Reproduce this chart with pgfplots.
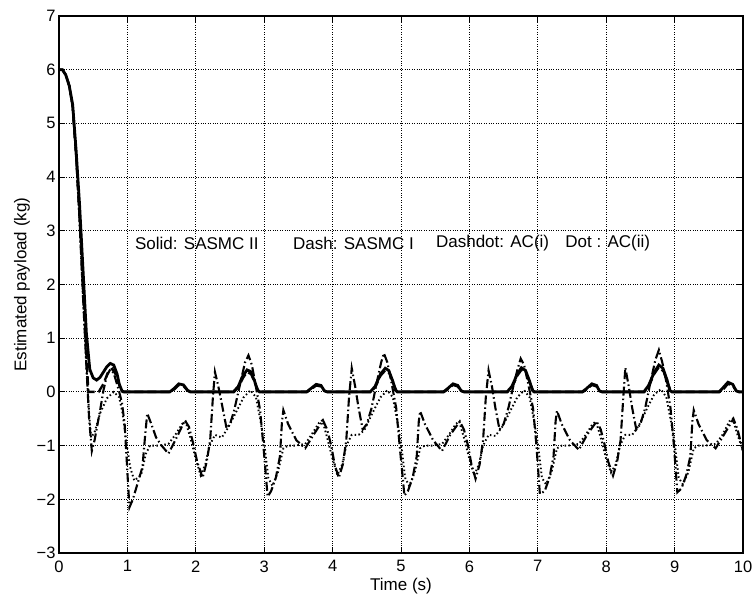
\documentclass[border=0pt]{standalone}
\usepackage{pgfplots}
\pgfplotsset{compat=1.18}
\usepackage{fontspec}
\setmainfont{Liberation Sans}
\begin{document}
\begin{tikzpicture}[font=\fontsize{16.5}{19}\selectfont]
\begin{axis}[
  name=ax,
  scale only axis, width=684pt, height=537pt,
  xmin=0, xmax=10, ymin=-3, ymax=7,
  xtick={0,1,...,10}, ytick={-3,-2,...,7},
  yticklabels={−3,−2,−1,0,1,2,3,4,5,6,7},
  tick align=inside, major tick length=6pt,
  xtick pos=both, ytick pos=both,
  grid=major,
  major grid style={dotted, black, line width=0.9pt},
  axis line style={black, line width=1.3pt},
  tick style={black, line width=1pt},
  /pgf/number format/assume math mode=true,
  xticklabel style={yshift=-4pt},
  xlabel={Time (s)}, ylabel={Estimated payload (kg)},
  label style={font=\fontsize{17}{20}\selectfont},
  xlabel style={yshift=1pt},
  ylabel style={yshift=0pt},
  clip=true,
]
% Solid: SASMC II
\addplot[black, line width=2.8pt] coordinates {
(0,6) (0.05,6) (0.1,5.9) (0.15,5.7) (0.2,5.35) (0.25,4.5) (0.3,3.5) (0.35,2.3) (0.4,1.1) (0.45,0.42) (0.5,0.26) (0.55,0.22) (0.6,0.27) (0.65,0.37) (0.7,0.47) (0.75,0.53) (0.8,0.5) (0.85,0.33) (0.88,0.15) (0.92,0.02) (0.95,0)
(1.62,0) (1.68,0.06) (1.75,0.15) (1.82,0.13) (1.88,0.03) (1.92,0)
(2.55,0) (2.62,0.1) (2.68,0.28) (2.75,0.41) (2.8,0.38) (2.86,0.2) (2.9,0.04) (2.93,0)
(3.62,0) (3.68,0.06) (3.76,0.14) (3.83,0.12) (3.88,0.02) (3.92,0)
(4.55,0) (4.62,0.1) (4.7,0.33) (4.77,0.44) (4.82,0.4) (4.88,0.2) (4.92,0.03) (4.95,0)
(5.62,0) (5.68,0.06) (5.76,0.15) (5.83,0.12) (5.88,0.02) (5.92,0)
(6.55,0) (6.62,0.1) (6.7,0.33) (6.76,0.45) (6.82,0.4) (6.88,0.2) (6.92,0.03) (6.95,0)
(7.65,0) (7.71,0.06) (7.79,0.15) (7.86,0.12) (7.9,0.02) (7.94,0)
(8.55,0) (8.62,0.12) (8.7,0.36) (8.77,0.5) (8.83,0.44) (8.89,0.22) (8.93,0.03) (8.96,0)
(9.65,0) (9.71,0.08) (9.78,0.18) (9.85,0.14) (9.9,0.02) (9.94,0) (10,0)
};
% Dash: SASMC I
\addplot[black, line width=2.3pt, dash pattern=on 9pt off 4pt] coordinates {
(0,6) (0.05,6) (0.1,5.9) (0.15,5.7) (0.2,5.3) (0.25,4.4) (0.3,3.3) (0.35,2.0) (0.4,0.7) (0.43,0) (0.58,0) (0.65,0.15) (0.72,0.38) (0.78,0.43) (0.84,0.3) (0.9,0.05) (0.93,0)
(1.63,0) (1.69,0.05) (1.75,0.13) (1.82,0.11) (1.88,0.02) (1.92,0)
(2.56,0) (2.63,0.1) (2.69,0.26) (2.75,0.37) (2.81,0.33) (2.87,0.15) (2.92,0)
(3.63,0) (3.69,0.05) (3.76,0.12) (3.83,0.1) (3.88,0.02) (3.92,0)
(4.56,0) (4.63,0.1) (4.7,0.3) (4.77,0.4) (4.83,0.35) (4.89,0.15) (4.94,0)
(5.63,0) (5.69,0.05) (5.76,0.13) (5.83,0.1) (5.88,0.02) (5.92,0)
(6.56,0) (6.63,0.1) (6.7,0.3) (6.76,0.41) (6.83,0.35) (6.89,0.15) (6.94,0)
(7.66,0) (7.72,0.05) (7.79,0.13) (7.86,0.1) (7.9,0.02) (7.94,0)
(8.56,0) (8.63,0.12) (8.7,0.33) (8.77,0.46) (8.84,0.38) (8.9,0.15) (8.95,0)
(9.66,0) (9.72,0.06) (9.78,0.15) (9.85,0.12) (9.9,0.02) (9.94,0) (10,0)
};
% Dashdot: AC(i)
\addplot[black, line width=2.1pt, dash pattern=on 9pt off 3pt on 1.5pt off 3pt] coordinates {
(0,6) (0.05,6) (0.1,5.9) (0.15,5.7) (0.2,5.3) (0.25,4.4) (0.3,3.2) (0.35,1.8) (0.4,0.5) (0.44,-0.5) (0.48,-1.1) (0.52,-0.9) (0.6,-0.35) (0.65,0.03) (0.7,0.3) (0.75,0.42) (0.8,0.35) (0.87,0.05)
(0.92,-0.2) (0.96,-0.6) (1.0,-1.5) (1.03,-2.15) (1.08,-2.0) (1.15,-1.7) (1.22,-1.4) (1.26,-0.8) (1.29,-0.4) (1.35,-0.6) (1.42,-0.85) (1.5,-1.0) (1.6,-1.15) (1.72,-0.85) (1.84,-0.53) (1.9,-0.65) (1.96,-0.95) (2.02,-1.3) (2.1,-1.6) (2.16,-1.3) (2.21,-0.9) (2.25,-0.1) (2.28,0.37) (2.33,0.1) (2.38,-0.22) (2.45,-0.68) (2.5,-0.6) (2.56,-0.35) (2.65,0.16) (2.72,0.55) (2.77,0.68) (2.82,0.5) (2.87,0.16)
(2.94,-0.34) (2.99,-1.03) (3.05,-1.95) (3.1,-1.85) (3.17,-1.6) (3.23,-1.2) (3.26,-0.55) (3.28,-0.34) (3.35,-0.6) (3.47,-0.9) (3.6,-1.05) (3.72,-0.8) (3.86,-0.53) (3.92,-0.7) (3.98,-1.0) (4.03,-1.35) (4.09,-1.6) (4.15,-1.35) (4.2,-0.9) (4.24,-0.1) (4.28,0.44) (4.33,0.1) (4.38,-0.3) (4.44,-0.7) (4.5,-0.6) (4.57,-0.3) (4.65,0.2) (4.71,0.55) (4.75,0.72) (4.8,0.55) (4.86,0.18)
(4.93,-0.3) (4.98,-1.0) (5.05,-1.93) (5.1,-1.85) (5.17,-1.6) (5.23,-1.2) (5.26,-0.55) (5.28,-0.36) (5.35,-0.6) (5.47,-0.9) (5.6,-1.1) (5.72,-0.8) (5.86,-0.55) (5.92,-0.7) (5.98,-1.0) (6.03,-1.35) (6.09,-1.62) (6.15,-1.35) (6.2,-0.9) (6.24,-0.1) (6.28,0.4) (6.33,0.1) (6.38,-0.3) (6.44,-0.7) (6.5,-0.6) (6.57,-0.3) (6.65,0.15) (6.71,0.45) (6.75,0.62) (6.8,0.5) (6.86,0.15)
(6.93,-0.3) (6.98,-1.0) (7.03,-1.9) (7.1,-1.85) (7.17,-1.6) (7.23,-1.2) (7.26,-0.55) (7.28,-0.35) (7.35,-0.6) (7.47,-0.9) (7.6,-1.08) (7.72,-0.8) (7.86,-0.55) (7.92,-0.7) (7.98,-1.0) (8.03,-1.3) (8.1,-1.56) (8.16,-1.3) (8.21,-0.9) (8.25,-0.1) (8.28,0.45) (8.33,0.1) (8.38,-0.3) (8.44,-0.7) (8.5,-0.6) (8.57,-0.3) (8.65,0.2) (8.72,0.6) (8.77,0.78) (8.82,0.55) (8.88,0.18)
(8.94,-0.3) (8.99,-1.0) (9.04,-1.87) (9.1,-1.8) (9.17,-1.55) (9.23,-1.2) (9.26,-0.55) (9.28,-0.34) (9.35,-0.6) (9.47,-0.9) (9.6,-1.05) (9.72,-0.8) (9.86,-0.5) (9.92,-0.7) (9.97,-0.95) (10,-1.1)
};
% Dot: AC(ii)
\addplot[black, line width=1.9pt, dash pattern=on 1.5pt off 2.5pt] coordinates {
(0,6) (0.05,6) (0.1,5.9) (0.15,5.7) (0.2,5.3) (0.25,4.4) (0.3,3.2) (0.35,1.8) (0.4,0.5) (0.44,-0.4) (0.47,-0.85) (0.52,-0.75) (0.6,-0.4) (0.7,-0.12) (0.8,0.0)
(0.88,-0.1) (0.93,-0.4) (0.98,-0.9) (1.04,-1.4) (1.1,-1.65) (1.2,-1.55) (1.27,-1.15) (1.33,-1.0) (1.45,-1.0) (1.6,-0.97) (1.7,-0.8) (1.8,-0.6) (1.85,-0.55) (1.92,-0.85) (2.0,-1.25) (2.07,-1.55) (2.14,-1.35) (2.2,-1.0) (2.28,-0.8) (2.38,-0.85) (2.48,-0.65) (2.6,-0.35) (2.7,-0.1) (2.8,0.03)
(2.88,-0.1) (2.94,-0.5) (3.0,-0.95) (3.06,-1.6) (3.12,-1.75) (3.2,-1.5) (3.28,-1.05) (3.35,-1.0) (3.45,-1.0) (3.6,-0.97) (3.7,-0.78) (3.8,-0.58) (3.85,-0.53) (3.92,-0.85) (4.0,-1.25) (4.07,-1.55) (4.14,-1.35) (4.2,-1.0) (4.28,-0.8) (4.38,-0.8) (4.46,-0.72) (4.6,-0.35) (4.7,-0.1) (4.8,0.03)
(4.88,-0.1) (4.94,-0.5) (5.0,-0.95) (5.06,-1.6) (5.12,-1.75) (5.2,-1.5) (5.28,-1.05) (5.35,-1.0) (5.45,-1.0) (5.6,-0.97) (5.7,-0.8) (5.8,-0.6) (5.85,-0.55) (5.92,-0.85) (6.0,-1.25) (6.07,-1.55) (6.14,-1.35) (6.2,-1.0) (6.28,-0.8) (6.38,-0.82) (6.48,-0.65) (6.6,-0.35) (6.7,-0.1) (6.8,0.03)
(6.88,-0.1) (6.94,-0.5) (7.0,-0.95) (7.06,-1.6) (7.12,-1.72) (7.2,-1.5) (7.28,-1.05) (7.35,-1.0) (7.45,-1.0) (7.6,-0.97) (7.7,-0.8) (7.8,-0.6) (7.85,-0.55) (7.92,-0.85) (8.0,-1.25) (8.07,-1.5) (8.14,-1.35) (8.2,-1.0) (8.28,-0.8) (8.38,-0.8) (8.48,-0.62) (8.6,-0.3) (8.7,-0.05) (8.8,0.05)
(8.88,-0.1) (8.94,-0.5) (9.0,-0.95) (9.06,-1.6) (9.12,-1.72) (9.2,-1.5) (9.28,-1.05) (9.35,-1.0) (9.45,-1.0) (9.6,-0.97) (9.7,-0.8) (9.8,-0.55) (9.85,-0.5) (9.92,-0.8) (10,-1.1)
};
\begin{scope}[font=\fontsize{17}{20}\selectfont]
\node[anchor=west, inner sep=0pt] at (axis cs:1.11,2.77) {Solid: SASMC II};
\node[anchor=west, inner sep=0pt] at (axis cs:3.42,2.77) {Dash: SASMC I};
\node[anchor=west, inner sep=0pt] at (axis cs:5.51,2.77) {Dashdot: AC(i)};
\node[anchor=west, inner sep=0pt] at (axis cs:7.40,2.77) {Dot : AC(ii)};
\end{scope}
\end{axis}
\pgfresetboundingbox
\path (ax.south west) ++(-59pt,-43pt) rectangle ++(753pt,596pt);
\end{tikzpicture}
\end{document}
